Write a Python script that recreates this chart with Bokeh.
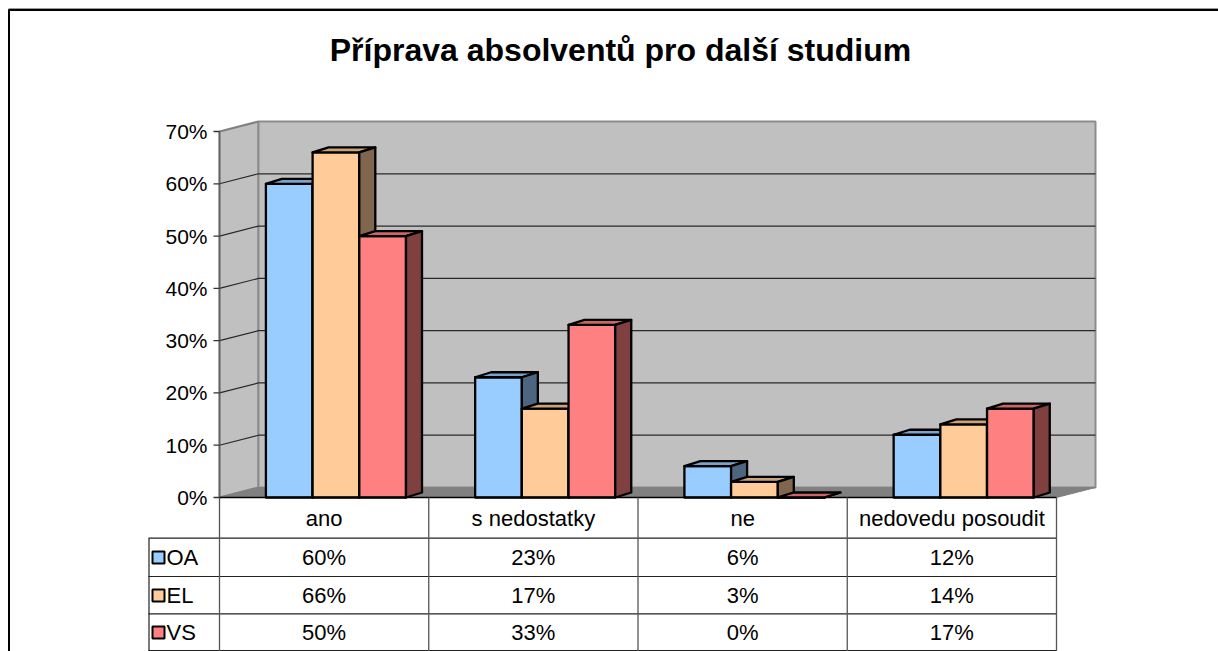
from bokeh.plotting import figure
from bokeh.models import Range1d
from bokeh.core.properties import value
from bokeh.embed import file_html
from bokeh.resources import INLINE

# ---------------- data ----------------
title = "Příprava absolventů pro další studium"
categories = ["ano", "s nedostatky", "ne", "nedovedu posoudit"]
series = ["OA", "EL", "VS"]
oa = [60, 23, 6, 12]
el = [66, 17, 3, 14]
vs = [50, 33, 0, 17]
values = [oa, el, vs]
ticks = [0, 10, 20, 30, 40, 50, 60, 70]
tick_labels = ["0%", "10%", "20%", "30%", "40%", "50%", "60%", "70%"]

front_colors = ["#99CCFF", "#FFCC99", "#FF8080"]
top_colors = ["#7AA3CC", "#CCA37A", "#CC6666"]
side_colors = ["#4D6680", "#80664D", "#804040"]

# ---------------- geometry (screen px -> data) ----------------
W, H = 1218, 651
X0PX, PX_PER_CAT = 219.0, 209.25      # front plane: category 0 starts here
Y0PX, PX_PER_PCT = 497.0, 366.0 / 70.0


def X(sx):
    return (sx - X0PX) / PX_PER_CAT


def Y(sy):
    return (Y0PX - sy) / PX_PER_PCT


FONT = value("Liberation Sans")

p = figure(width=W, height=H, output_backend="svg", toolbar_location=None,
           x_range=Range1d(X(0), X(W)), y_range=Range1d(Y(H), Y(0)),
           x_axis_type=None, y_axis_type=None, min_border=0,
           background_fill_color="white", border_fill_color="white")
p.outline_line_color = None
p.xgrid.visible = False
p.ygrid.visible = False

ncat = len(categories)
ymax = ticks[-1]
wdx, wdy = X(X0PX + 39), 10 / PX_PER_PCT   # wall depth offset

# chart border (left & top)
p.line([X(8.5), X(8.5)], [Y(9), Y(651)], line_color="black", line_width=2)
p.line([X(8), X(1218)], [Y(8), Y(8)], line_color="#999999", line_width=1)
p.line([X(8), X(1218)], [Y(9.5), Y(9.5)], line_color="black", line_width=2)

# walls
p.patch([0, 0, wdx, wdx], [0, ymax, ymax + wdy, wdy],
        fill_color="#C0C0C0", line_color="#808080", line_width=2)
p.patch([wdx, wdx, ncat + wdx, ncat + wdx], [wdy, ymax + wdy, ymax + wdy, wdy],
        fill_color="#C0C0C0", line_color="#8C8C8C", line_width=2)
p.patch([0, ncat, ncat + wdx, wdx], [0, 0, wdy, wdy],
        fill_color="#808080", line_color="#808080", line_width=1)

# gridlines
grid_t = [t for t in ticks if 0 < t < ymax]
p.multi_line([[0, wdx, ncat + wdx] for t in grid_t],
             [[t, t + wdy, t + wdy] for t in grid_t],
             line_color="#2a2a2a", line_width=1.2)

# bars
off = X(X0PX + 46.4)
bw = X(X0PX + 46.7)
bdx = X(X0PX + 16)
bdy = 5 / PX_PER_PCT
for j, s in enumerate(series):
    xs, ys, cols = [], [], []
    for i in range(ncat):
        v = values[j][i]
        x0 = i + off + j * bw
        x1 = x0 + bw
        xs.append([x0, x1, x1, x0]); ys.append([0, 0, v, v]); cols.append(front_colors[j])
        xs.append([x0, x1, x1 + bdx, x0 + bdx]); ys.append([v, v, v + bdy, v + bdy]); cols.append(top_colors[j])
        xs.append([x1, x1 + bdx, x1 + bdx, x1]); ys.append([0, bdy, v + bdy, v]); cols.append(side_colors[j])
    p.patches(xs, ys, fill_color=cols, line_color="black", line_width=2.3, line_join="round")

# value axis
p.line([0, 0], [0, ymax], line_color="#606060", line_width=1.5)
p.segment(x0=[X(213)] * len(ticks), y0=ticks, x1=[0] * len(ticks), y1=ticks,
          line_color="#333333", line_width=1.3)
p.text(x=[X(207)] * len(ticks), y=ticks, text=tick_labels, text_font=FONT,
       text_font_size=value("21px"), text_align="right", text_baseline="middle",
       text_color="black")

# data table
row_lines = [537.7, 576.0, 613.3, 650.0]
p.line([0, ncat], [0, 0], line_color="black", line_width=1.5)
p.multi_line([[X(148), ncat] for r in row_lines], [[Y(r), Y(r)] for r in row_lines],
             line_color="#222222", line_width=1.2)
p.multi_line([[i, i] for i in range(1, ncat)] + [[0, 0], [ncat, ncat]],
             [[0, Y(651)] for i in range(1, ncat)] + [[0, Y(651)], [0, Y(651)]],
             line_color="#555555", line_width=1.3)
p.line([X(148.5), X(148.5)], [Y(537.7), Y(651)], line_color="#222222", line_width=1.2)

p.text(x=[i + 0.5 for i in range(ncat)], y=[Y(518)] * ncat, text=categories,
       text_font=FONT, text_font_size=value("22px"), text_align="center",
       text_baseline="middle", text_color="black")
row_centers = [557.0, 595.0, 632.0]
for j, s in enumerate(series):
    p.text(x=[i + 0.5 for i in range(ncat)], y=[Y(row_centers[j])] * ncat,
           text=[f"{v}%" for v in values[j]], text_font=FONT,
           text_font_size=value("22px"), text_align="center",
           text_baseline="middle", text_color="black")
p.scatter(x=[X(158)] * 3, y=[Y(c) for c in row_centers], marker="square", size=12,
          fill_color=front_colors, line_color="black", line_width=2)
p.text(x=[X(166)] * 3, y=[Y(c) for c in row_centers], text=series, text_font=FONT,
       text_font_size=value("22px"), text_align="left", text_baseline="middle",
       text_color="black")

# title
p.text(x=[X(620)], y=[Y(49)], text=[title], text_font=FONT,
       text_font_size=value("32px"), text_font_style="bold", text_align="center",
       text_baseline="middle", text_color="black")

open("out.html", "w").write(file_html(p, INLINE))
